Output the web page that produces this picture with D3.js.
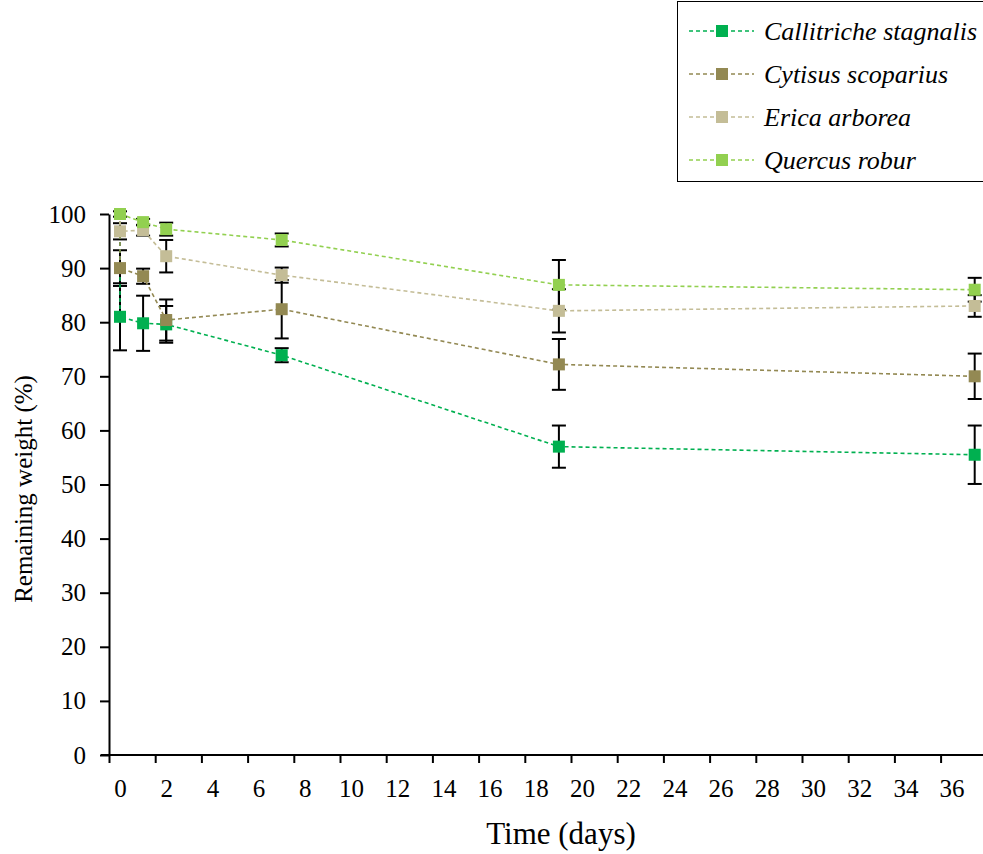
<!DOCTYPE html>
<html>
<head>
<meta charset="utf-8">
<script src="https://cdn.jsdelivr.net/npm/d3@7"></script>
<style>
  body { margin: 0; background: #fff; }
  svg { display: block; }
  svg text { font-family: "Liberation Serif", "Times New Roman", Times, "DejaVu Serif", serif; fill: #000; }
</style>
</head>
<body>
<svg id="chart" width="983" height="854"></svg>
<script>
// sampling days, every series starts from 100 % at day 0
const days = [0, 0, 1, 2, 7, 19, 37];
const seriesNames = ["Callitriche stagnalis", "Cytisus scoparius", "Erica arborea", "Quercus robur"];
const callitriche = [100, 81.0, 79.8, 79.6, 73.9, 57.0, 55.5];
const callitricheErr = [null, 6.2, 5.1, 3.4, 1.3, 3.9, 5.4];
const cytisus = [100, 90.0, 88.5, 80.4, 82.4, 72.2, 70.0];
const cytisusErr = [null, 3.3, 1.4, 3.8, 5.4, 4.7, 4.2];
const erica = [100, 96.8, 97.0, 92.2, 88.7, 82.1, 83.0];
const ericaErr = [null, 1.5, 1.0, 3.0, 1.4, 4.0, 2.0];
const quercus = [100, 100, 98.5, 97.2, 95.2, 86.9, 86.0];
const quercusErr = [null, 0.5, 0.6, 1.2, 1.2, 4.6, 2.2];
const colors = ["#00b050", "#938953", "#c4bd97", "#92d050"];
const xTicks = d3.range(0, 38, 2);
const yTicks = d3.range(0, 101, 10);

const values = [callitriche, cytisus, erica, quercus];
const errors = [callitricheErr, cytisusErr, ericaErr, quercusErr];

const series = seriesNames.map((name, i) => ({
  name: name,
  color: colors[i],
  points: days.map((d, j) => ({ day: d, value: values[i][j], err: errors[i][j] }))
}));

const svg = d3.select("#chart");

const x = d3.scaleLinear().domain([0, 36]).range([120, 120 + 36 * 23.1]);
const y = d3.scaleLinear().domain([0, 100]).range([755, 214]);
const tickShift = -11; // tick marks sit a little left of their labels

// axes
const xAxis = d3.axisBottom(x).tickValues(xTicks).tickSize(8).tickPadding(16).tickSizeOuter(0);
const gx = svg.append("g")
  .attr("transform", "translate(0,755)")
  .call(xAxis)
  .attr("font-family", null);
gx.select(".domain").remove();
gx.selectAll(".tick line").attr("x1", tickShift).attr("x2", tickShift).attr("stroke-width", 2);
gx.selectAll(".tick text").attr("font-size", 25);
gx.append("line")
  .attr("x1", 101).attr("x2", 983)
  .attr("stroke", "#000").attr("stroke-width", 2);

const yAxis = d3.axisLeft(y).tickValues(yTicks).tickSize(9).tickPadding(14).tickSizeOuter(0);
const gy = svg.append("g")
  .attr("transform", `translate(${x(0) + tickShift},0)`)
  .call(yAxis)
  .attr("font-family", null);
gy.select(".domain").attr("stroke-width", 2);
gy.selectAll(".tick line").attr("stroke-width", 2);
gy.selectAll(".tick text").attr("font-size", 25);

svg.append("text")
  .attr("x", 561).attr("y", 844)
  .attr("text-anchor", "middle")
  .attr("font-size", 31)
  .text("Time (days)");

svg.append("text")
  .attr("transform", "translate(32,489) rotate(-90)")
  .attr("text-anchor", "middle")
  .attr("font-size", 25)
  .text("Remaining weight (%)");

// error bars
const errG = svg.append("g");
series.forEach(s => {
  s.points.filter(p => p.err != null).forEach(p => {
    const cx = x(p.day);
    const top = y(p.value + p.err), bot = y(p.value - p.err);
    errG.append("line").attr("x1", cx).attr("x2", cx).attr("y1", top).attr("y2", bot)
      .attr("stroke", "#000").attr("stroke-width", 2);
    [top, bot].forEach(yy => {
      errG.append("line").attr("x1", cx - 7).attr("x2", cx + 7).attr("y1", yy).attr("y2", yy)
        .attr("stroke", "#000").attr("stroke-width", 2);
    });
  });
});

// lines
const line = d3.line().x(d => x(d.day)).y(d => y(d.value));
svg.append("g").selectAll("path")
  .data(series)
  .enter().append("path")
  .attr("d", d => line(d.points))
  .attr("fill", "none")
  .attr("stroke", d => d.color)
  .attr("stroke-width", 1.6)
  .attr("stroke-dasharray", "4,3");

// markers
const ms = 12;
series.forEach(s => {
  svg.append("g").selectAll("rect")
    .data(s.points)
    .enter().append("rect")
    .attr("x", d => x(d.day) - ms / 2)
    .attr("y", d => y(d.value) - ms / 2)
    .attr("width", ms).attr("height", ms)
    .attr("fill", s.color);
});

// legend
const legend = svg.append("g");
legend.append("rect")
  .attr("x", 677.5).attr("y", 1.5)
  .attr("width", 330).attr("height", 180)
  .attr("fill", "#fff").attr("stroke", "#000").attr("stroke-width", 1);
const rowY = d3.scalePoint().domain(seriesNames).range([31, 160]);
seriesNames.forEach((name, i) => {
  const ry = rowY(name);
  legend.append("line")
    .attr("x1", 689).attr("x2", 754).attr("y1", ry).attr("y2", ry)
    .attr("stroke", colors[i]).attr("stroke-width", 1.6).attr("stroke-dasharray", "4,3");
  legend.append("rect")
    .attr("x", 722 - ms / 2).attr("y", ry - ms / 2)
    .attr("width", ms).attr("height", ms)
    .attr("fill", colors[i]);
  legend.append("text")
    .attr("x", 764).attr("y", ry)
    .attr("dy", "0.33em")
    .attr("font-size", 26)
    .attr("font-style", "italic")
    .text(name);
});
</script>
</body>
</html>
